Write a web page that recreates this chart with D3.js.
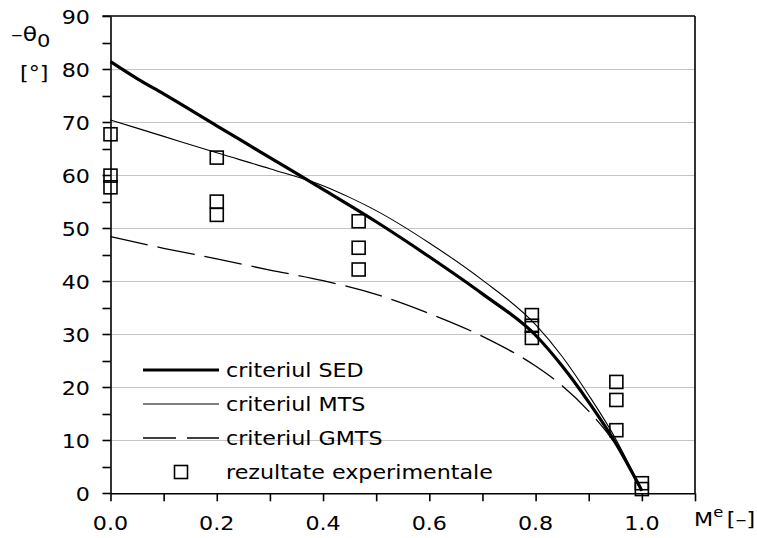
<!DOCTYPE html>
<html><head><meta charset="utf-8">
<script src="https://cdn.jsdelivr.net/npm/d3@7"></script>
<style>body{margin:0;background:#fff}svg{display:block}</style>
</head><body>
<svg id="c" width="757" height="538"></svg>
<script>
// ---- data ----
const sedX  = [0, 0.05, 0.1, 0.2, 0.3, 0.4, 0.5, 0.6, 0.7, 0.8, 0.85, 0.9, 0.95, 1.0];
const sedY  = [81.4, 78.2, 75.3, 69.3, 63.3, 57.3, 51.2, 44.6, 37.6, 29.8, 24.0, 17.2, 9.6, 0.5];
const mtsX  = [0, 0.1, 0.2, 0.3, 0.4, 0.45, 0.5, 0.6, 0.7, 0.8, 0.85, 0.9, 0.95, 1.0];
const mtsY  = [70.4, 67.3, 64.2, 61.2, 58.0, 55.8, 53.3, 47.2, 40.2, 31.8, 25.8, 18.5, 10.4, 0.5];
const gmtsX = [0, 0.1, 0.2, 0.3, 0.4, 0.5, 0.6, 0.7, 0.8, 0.85, 0.9, 0.95, 1.0];
const gmtsY = [48.4, 46.2, 44.2, 42.1, 40.1, 37.5, 33.9, 29.6, 24.0, 20.3, 15.5, 9.3, 0.5];
const expX  = [0, 0, 0, 0.2, 0.2, 0.2, 0.467, 0.467, 0.467, 0.793, 0.793, 0.793, 0.952, 0.952, 0.952, 1.0, 1.0];
const expY  = [67.7, 59.9, 57.7, 63.3, 55.0, 52.5, 51.3, 46.3, 42.2, 33.6, 31.6, 29.3, 21.0, 17.6, 11.9, 1.9, 0.8];
const xTicks = [0, 0.1, 0.2, 0.3, 0.4, 0.5, 0.6, 0.7, 0.8, 0.9, 1.0, 1.1];
const xLabels = ["0.0", "", "0.2", "", "0.4", "", "0.6", "", "0.8", "", "1.0", ""];
const yTicks = [0,5,10,15,20,25,30,35,40,45,50,55,60,65,70,75,80,85,90];
const yLabels = [0,10,20,30,40,50,60,70,80,90];
const gridVals = [10,20,30,40,50,60,70,80];
const legendNames = ["criteriul SED", "criteriul MTS", "criteriul GMTS", "rezultate experimentale"];

// ---- layout ----
const svg = d3.select("#c");
const L = 110.5, R = 695, T = 16, B = 493.3;
const x = d3.scaleLinear().domain([0, 1.1]).range([L, R]);
const y = d3.scaleLinear().domain([0, 90]).range([B, T]);
const FONT = "DejaVu Sans";
const FS = 19, SX = 1.17;

function stext(px, py, str, anchor) {
  return svg.append("text")
    .attr("transform", `translate(${px},${py}) scale(${SX},1)`)
    .attr("font-family", FONT).attr("font-size", FS).attr("fill", "#000")
    .attr("text-anchor", anchor || "start").text(str);
}

// gridlines
svg.append("g").selectAll("line").data(gridVals).join("line")
  .attr("x1", x(0)).attr("x2", x(1.1))
  .attr("y1", d => Math.round(y(d)) + 0.5).attr("y2", d => Math.round(y(d)) + 0.5)
  .attr("stroke", "#c4c4c4").attr("stroke-width", 1.2);

// frame top & right
svg.append("line").attr("x1", x(0) - 8).attr("x2", x(1.1)).attr("y1", y(90)).attr("y2", y(90))
  .attr("stroke", "#000").attr("stroke-width", 1.6);
svg.append("line").attr("x1", x(1.1)).attr("x2", x(1.1)).attr("y1", y(90)).attr("y2", y(0))
  .attr("stroke", "#000").attr("stroke-width", 1.6);

// axes
const xAxis = d3.axisBottom(x).tickValues(xTicks).tickFormat("").tickSize(8).tickSizeOuter(0);
const gx = svg.append("g").attr("transform", `translate(0,${B})`).call(xAxis);
const yAxis = d3.axisLeft(y).tickValues(yTicks).tickFormat("").tickSize(8).tickSizeOuter(0);
const gy = svg.append("g").attr("transform", `translate(${L},0)`).call(yAxis);
[gx, gy].forEach(g => {
  g.selectAll("path,line").attr("stroke", "#000").attr("stroke-width", 1.6);
});
gy.selectAll(".tick").attr("transform", d => `translate(0,${Math.round(y(d)) + 0.5})`);

// tick labels
xTicks.forEach((v, i) => { if (xLabels[i]) stext(x(v), 530, xLabels[i], "middle"); });
yLabels.forEach(v => stext(90, y(v) + 7.5, String(v), "end"));

// axis titles
const yt = svg.append("text").attr("transform", `translate(11,41) scale(${SX},1)`)
  .attr("font-family", FONT).attr("font-size", 20);
yt.append("tspan").text("–θ");
yt.append("tspan").attr("font-size", 18).attr("dy", 6).text("0");
stext(20, 80, "[°]");
const xt = svg.append("text").attr("transform", `translate(694,526) scale(${SX},1)`)
  .attr("font-family", FONT).attr("font-size", FS);
xt.append("tspan").text("M");
xt.append("tspan").attr("font-size", 14).attr("dy", -9).text("e");
xt.append("tspan").attr("dy", 9).attr("dx", 3).text("[–]");

// curves
const line = d3.line().x(d => x(d[0])).y(d => y(d[1])).curve(d3.curveMonotoneX);
const zip = (a, b) => a.map((v, i) => [v, b[i]]);
const plot = svg.append("g");
plot.append("path").datum(zip(gmtsX, gmtsY)).attr("d", line)
  .attr("fill", "none").attr("stroke", "#000").attr("stroke-width", 1.3).attr("stroke-dasharray", "38,10");
plot.append("path").datum(zip(mtsX, mtsY)).attr("d", line)
  .attr("fill", "none").attr("stroke", "#000").attr("stroke-width", 1.1);
plot.append("path").datum(zip(sedX, sedY)).attr("d", line)
  .attr("fill", "none").attr("stroke", "#000").attr("stroke-width", 3.2);

// experimental squares
const S = 13;
plot.append("g").selectAll("rect").data(zip(expX, expY)).join("rect")
  .attr("x", d => x(d[0]) - S / 2).attr("y", d => y(d[1]) - S / 2)
  .attr("width", S).attr("height", S)
  .attr("fill", "none").attr("stroke", "#000").attr("stroke-width", 1.6);

// legend
const lgY = [370, 404, 438, 472];
const lg = svg.append("g");
lg.append("line").attr("x1", 143).attr("x2", 219).attr("y1", lgY[0]).attr("y2", lgY[0])
  .attr("stroke", "#000").attr("stroke-width", 3.2);
lg.append("line").attr("x1", 143).attr("x2", 219).attr("y1", lgY[1]).attr("y2", lgY[1])
  .attr("stroke", "#000").attr("stroke-width", 1.1);
lg.append("line").attr("x1", 143).attr("x2", 219).attr("y1", lgY[2]).attr("y2", lgY[2])
  .attr("stroke", "#000").attr("stroke-width", 1.3).attr("stroke-dasharray", "33,11");
lg.append("rect").attr("x", 181 - S / 2).attr("y", lgY[3] - S / 2).attr("width", S).attr("height", S)
  .attr("fill", "none").attr("stroke", "#000").attr("stroke-width", 1.6);
legendNames.forEach((n, i) => stext(226, lgY[i] + 7, n));
</script>
</body></html>
